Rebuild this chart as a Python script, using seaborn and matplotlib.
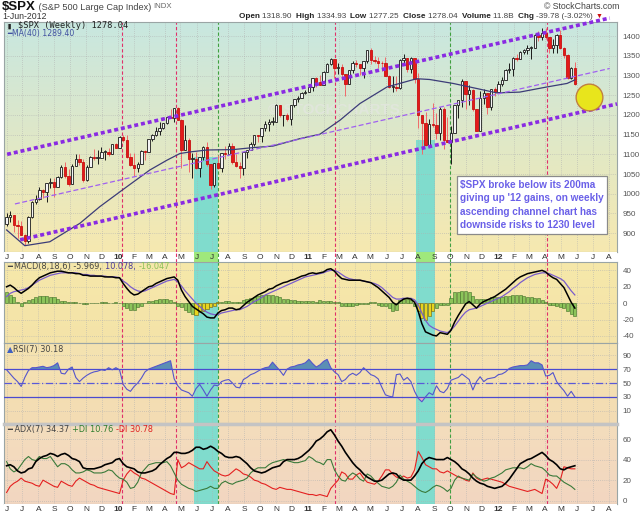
import numpy as np
import pandas as pd
import seaborn as sns
import matplotlib.pyplot as plt

plt.rcParams["font.family"] = ["Liberation Sans", "DejaVu Sans"]
plt.rcParams["axes.unicode_minus"] = False

W, H = 640, 515

# weekly bars, plotted at the Monday of each week
weeks = pd.date_range("2009-06-01", periods=157, freq="W-MON")

opens = [923, 940, 946, 921, 918, 896, 879, 940, 979, 987,
         1010, 1004, 1026, 1029, 1016, 1042, 1068, 1044, 1025, 1071,
         1087, 1080, 1036, 1069, 1093, 1091, 1091, 1106, 1106, 1102,
         1126, 1115, 1145, 1136, 1092, 1074, 1066, 1075, 1109, 1105,
         1139, 1150, 1160, 1167, 1179, 1194, 1192, 1217, 1187, 1111,
         1136, 1088, 1089, 1065, 1092, 1118, 1076, 1022, 1078, 1065,
         1103, 1102, 1122, 1080, 1071, 1065, 1105, 1110, 1125, 1149,
         1147, 1166, 1176, 1183, 1183, 1225, 1199, 1199, 1189, 1224,
         1240, 1244, 1256, 1258, 1272, 1293, 1283, 1276, 1310, 1329,
         1343, 1320, 1321, 1304, 1279, 1314, 1332, 1329, 1320, 1337,
         1364, 1340, 1338, 1333, 1331, 1300, 1271, 1272, 1268, 1340,
         1344, 1316, 1345, 1292, 1199, 1179, 1124, 1177, 1174, 1154,
         1216, 1136, 1131, 1155, 1225, 1238, 1285, 1253, 1264, 1216,
         1159, 1244, 1255, 1219, 1265, 1258, 1278, 1289, 1315, 1316,
         1345, 1343, 1361, 1366, 1370, 1371, 1404, 1397, 1408, 1398,
         1370, 1378, 1403, 1369, 1353, 1295, 1319]
highs = [951, 956, 946, 934, 931, 898, 943, 982, 996, 1018,
         1013, 1027, 1040, 1039, 1045, 1074, 1080, 1063, 1076, 1101,
         1101, 1087, 1072, 1097, 1113, 1112, 1119, 1111, 1117, 1127,
         1130, 1147, 1150, 1150, 1103, 1104, 1080, 1112, 1112, 1139,
         1151, 1170, 1181, 1180, 1195, 1214, 1217, 1220, 1190, 1174,
         1141, 1104, 1106, 1092, 1121, 1131, 1076, 1078, 1099, 1103,
         1120, 1128, 1130, 1100, 1081, 1105, 1111, 1131, 1149, 1150,
         1167, 1184, 1189, 1196, 1227, 1226, 1200, 1206, 1225, 1240,
         1247, 1259, 1263, 1278, 1294, 1297, 1302, 1311, 1331, 1344,
         1343, 1332, 1330, 1304, 1314, 1338, 1339, 1329, 1337, 1364,
         1371, 1349, 1346, 1336, 1346, 1301, 1298, 1298, 1341, 1356,
         1344, 1347, 1345, 1307, 1199, 1208, 1190, 1230, 1204, 1220,
         1220, 1195, 1171, 1226, 1239, 1292, 1285, 1277, 1266, 1216,
         1260, 1267, 1256, 1266, 1270, 1285, 1297, 1316, 1333, 1346,
         1354, 1363, 1368, 1378, 1375, 1406, 1414, 1420, 1422, 1399,
         1392, 1406, 1415, 1372, 1354, 1321, 1335]
lows = [919, 929, 904, 888, 896, 869, 875, 938, 975, 985,
        990, 978, 1014, 991, 1016, 1040, 1041, 1020, 1025, 1070,
        1074, 1029, 1033, 1069, 1086, 1076, 1091, 1086, 1097, 1102,
        1115, 1115, 1131, 1091, 1071, 1044, 1056, 1075, 1086, 1105,
        1134, 1146, 1150, 1165, 1176, 1192, 1183, 1186, 1065, 1111,
        1056, 1040, 1064, 1042, 1085, 1071, 1011, 1018, 1062, 1056,
        1089, 1102, 1076, 1069, 1039, 1047, 1091, 1110, 1122, 1131,
        1131, 1159, 1159, 1175, 1183, 1194, 1173, 1185, 1174, 1220,
        1232, 1244, 1254, 1257, 1262, 1271, 1275, 1276, 1309, 1326,
        1294, 1303, 1291, 1249, 1279, 1306, 1322, 1302, 1295, 1331,
        1330, 1331, 1318, 1311, 1300, 1268, 1258, 1262, 1267, 1333,
        1309, 1306, 1282, 1168, 1101, 1122, 1121, 1170, 1140, 1137,
        1114, 1131, 1075, 1155, 1191, 1221, 1215, 1226, 1209, 1158,
        1159, 1229, 1202, 1212, 1248, 1258, 1274, 1289, 1306, 1300,
        1337, 1341, 1354, 1355, 1341, 1369, 1387, 1391, 1392, 1357,
        1358, 1358, 1368, 1344, 1291, 1292, 1277]
closes = [940, 946, 921, 918, 896, 879, 940, 979, 987, 1010,
          1004, 1026, 1029, 1016, 1042, 1068, 1044, 1025, 1071, 1087,
          1080, 1036, 1069, 1093, 1091, 1091, 1106, 1106, 1102, 1126,
          1115, 1145, 1136, 1092, 1074, 1066, 1075, 1109, 1105, 1139,
          1150, 1160, 1167, 1179, 1194, 1192, 1217, 1187, 1111, 1136,
          1088, 1089, 1065, 1092, 1118, 1076, 1022, 1078, 1065, 1103,
          1102, 1122, 1080, 1071, 1065, 1105, 1110, 1125, 1149, 1147,
          1166, 1176, 1183, 1183, 1225, 1199, 1199, 1189, 1224, 1240,
          1244, 1256, 1258, 1272, 1293, 1283, 1276, 1310, 1329, 1343,
          1320, 1321, 1304, 1279, 1314, 1332, 1329, 1320, 1337, 1364,
          1340, 1338, 1333, 1331, 1300, 1271, 1272, 1268, 1340, 1344,
          1316, 1345, 1292, 1199, 1179, 1124, 1177, 1174, 1154, 1216,
          1136, 1131, 1155, 1225, 1238, 1285, 1253, 1264, 1216, 1159,
          1244, 1255, 1219, 1265, 1258, 1278, 1289, 1315, 1316, 1345,
          1343, 1361, 1366, 1370, 1371, 1404, 1397, 1408, 1398, 1370,
          1378, 1403, 1369, 1353, 1295, 1318, 1278]

ma_dates = ["2009-06-01", "2009-07-06", "2009-08-23", "2009-10-20", "2009-11-27",
            "2010-01-09", "2010-03-03", "2010-04-05", "2010-04-30", "2010-05-19",
            "2010-06-21", "2010-08-10", "2010-09-17", "2010-10-26", "2010-12-17",
            "2011-01-24", "2011-03-04", "2011-04-11", "2011-06-02", "2011-07-29",
            "2011-08-23", "2011-10-07", "2011-11-22", "2011-12-30", "2012-02-12",
            "2012-04-04", "2012-05-13", "2012-05-28"]
ma40 = [908, 868, 878, 925, 967, 1009, 1060, 1085, 1102, 1106,
        1111, 1112, 1117, 1121, 1140, 1151, 1187, 1229, 1271, 1292,
        1290, 1280, 1267, 1256, 1258, 1271, 1280, 1289]

macd_line = [20, 22, 19, 15, 12, 15, 18, 22, 27, 31, 33, 35, 37, 38, 39, 39, 38, 37, 37, 36,
             36, 34, 34, 33, 33, 33, 33, 32, 32, 32, 31, 31, 24, 18, 13, 10, 11, 14, 17, 20,
             21, 24, 26, 28, 30, 31, 32, 28, 16, 8, 2, -4, -7, -10, -13, -17, -18, -18, -12, -9,
             -8, -6, -6, -8, -7, -3, 1, 4, 7, 10, 12, 14, 17, 18, 21, 23, 25, 26, 28, 29,
             31, 33, 34, 36, 37, 36, 37, 38, 41, 42, 39, 34, 30, 29, 28, 28, 28, 28, 27, 26,
             25, 22, 19, 15, 11, 7, 1, -2, 2, 5, 6, 5, 1, -10, -25, -35, -37, -39, -40, -36,
             -37, -38, -33, -23, -15, -8, -1, 2, -2, -6, -1, 2, 4, 6, 8, 11, 14, 17, 21, 25,
             29, 32, 34, 36, 37, 38, 39, 40, 38, 34, 31, 29, 24, 19, 10, 1, -6]
macd_signal = [8, 12, 14, 15, 16, 17, 19, 22, 25, 28, 30, 32, 34, 35, 36, 37, 37, 37, 37, 37,
               36, 35, 35, 34, 34, 33, 33, 33, 32, 32, 32, 31, 27, 24, 20, 17, 15, 14, 15, 17,
               19, 21, 23, 25, 27, 28, 29, 26, 21, 15, 10, 5, 0, -4, -8, -11, -13, -14, -14, -12,
               -11, -10, -9, -8, -8, -6, -4, -1, 2, 4, 7, 10, 12, 14, 16, 18, 20, 22, 24, 26,
               28, 30, 32, 33, 34, 35, 36, 37, 39, 40, 40, 38, 35, 32, 30, 29, 28, 28, 27, 26,
               25, 24, 22, 19, 15, 11, 7, 5, 5, 6, 6, 6, 4, -2, -12, -21, -27, -30, -32, -34,
               -35, -36, -33, -28, -22, -16, -11, -8, -7, -6, -4, -2, 0, 2, 4, 6, 8, 11, 14, 18,
               21, 25, 28, 31, 33, 35, 36, 37, 37, 36, 34, 32, 30, 27, 21, 15, 10]
macd_hist = [14, 10, 7, 2, -3, 1, 4, 5, 8, 9, 9, 9, 8, 7, 5, 3, 3, 2, 1, 1,
             0, -1, -1, 0, 0, 0, 1, 1, 0, 0, 1, 0, -4, -6, -8, -8, -5, -3, 0, 3,
             3, 4, 5, 5, 5, 4, 2, -3, -5, -8, -11, -13, -14, -11, -9, -7, -5, -3, 2, 2,
             3, 3, 2, 1, 2, 4, 5, 6, 7, 9, 10, 10, 10, 10, 9, 7, 5, 5, 4, 4,
             3, 3, 3, 3, 3, 2, 4, 3, 3, 3, 1, 1, -3, -3, -3, -3, -2, -1, -1, -1,
             1, 1, -2, -3, -4, -6, -10, -8, 4, 5, 5, 4, -3, -10, -18, -20, -16, -10, -6, -2,
             -2, -2, 6, 13, 14, 15, 15, 14, 9, 5, 5, 5, 5, 7, 8, 8, 8, 9, 9, 10,
             10, 10, 9, 8, 7, 6, 6, 4, 2, -2, -2, -3, -5, -6, -10, -13, -16]
rsi7 = [69, 63, 57, 52, 45, 58, 68, 72, 72, 73, 74, 72, 73, 75, 79, 64, 63, 70, 73, 58,
        52, 57, 61, 64, 66, 67, 69, 68, 72, 69, 72, 69, 48, 41, 38, 45, 50, 57, 66, 70,
        72, 74, 76, 78, 80, 82, 56, 46, 40, 38, 36, 31, 42, 48, 40, 31, 40, 47, 46, 52,
        54, 55, 50, 44, 43, 55, 58, 62, 64, 67, 70, 72, 73, 80, 74, 68, 61, 70, 73, 74,
        76, 77, 79, 84, 78, 73, 76, 81, 84, 72, 66, 62, 52, 55, 61, 64, 61, 65, 72, 67,
        62, 60, 56, 44, 33, 31, 30, 62, 63, 54, 58, 52, 38, 28, 23, 30, 36, 33, 46, 38,
        36, 42, 54, 56, 58, 63, 59, 55, 40, 52, 59, 52, 56, 57, 58, 62, 63, 66, 71, 73,
        74, 75, 75, 76, 82, 79, 79, 76, 60, 61, 65, 52, 45, 39, 31, 38, 30]
adx7 = [34, 35, 33, 29, 27, 28, 31, 32, 38, 41, 43, 44, 46, 45, 43, 45, 46, 44, 41, 40,
        38, 32, 31, 31, 31, 32, 33, 35, 36, 37, 40, 41, 36, 33, 32, 31, 28, 27, 27, 28,
        29, 31, 35, 38, 41, 43, 47, 47, 46, 46, 47, 49, 52, 52, 50, 51, 53, 51, 48, 46,
        43, 42, 42, 43, 42, 39, 36, 32, 29, 28, 27, 28, 30, 32, 33, 34, 38, 40, 40, 40,
        41, 43, 46, 49, 53, 58, 60, 63, 67, 69, 64, 58, 53, 47, 42, 37, 33, 30, 26, 23,
        21, 19, 19, 20, 23, 26, 27, 26, 22, 20, 20, 20, 24, 29, 36, 40, 42, 41, 40, 40,
        40, 42, 40, 38, 35, 31, 29, 26, 22, 19, 17, 16, 14, 13, 12, 13, 14, 17, 21, 26,
        31, 36, 38, 40, 41, 43, 45, 47, 44, 40, 38, 35, 31, 30, 32, 33, 34]
plus_di = [38, 31, 28, 30, 35, 40, 43, 40, 39, 43, 41, 41, 43, 38, 33, 36, 36, 34, 30, 27,
           27, 28, 30, 29, 27, 27, 27, 28, 30, 29, 25, 22, 21, 18, 12, 13, 18, 27, 31, 35,
           36, 37, 37, 37, 38, 34, 27, 20, 16, 14, 12, 11, 9, 10, 11, 12, 14, 12, 12, 17,
           19, 17, 16, 18, 19, 20, 22, 27, 30, 32, 32, 32, 35, 37, 38, 39, 40, 39, 38, 37,
           37, 38, 39, 43, 41, 38, 37, 35, 40, 40, 30, 24, 20, 19, 24, 27, 25, 21, 19, 26,
           24, 20, 17, 14, 13, 12, 14, 18, 25, 21, 19, 17, 14, 11, 9, 8, 10, 13, 15, 14,
           12, 9, 12, 20, 24, 22, 21, 20, 26, 23, 21, 19, 20, 22, 23, 25, 27, 30, 31, 32,
           32, 32, 31, 33, 36, 34, 33, 32, 29, 25, 24, 24, 21, 18, 16, 14, 11]
minus_di = [8, 14, 17, 19, 22, 19, 18, 17, 15, 14, 20, 18, 16, 14, 13, 19, 17, 15, 14, 19,
            22, 20, 18, 16, 15, 13, 12, 11, 10, 9, 8, 7, 20, 26, 30, 27, 25, 22, 21, 19,
            17, 15, 13, 11, 9, 7, 6, 40, 32, 34, 37, 35, 33, 31, 31, 38, 33, 29, 27, 25,
            24, 25, 28, 31, 29, 26, 25, 23, 20, 19, 17, 16, 14, 12, 11, 13, 12, 11, 11, 10,
            9, 8, 7, 6, 6, 5, 6, 5, 4, 12, 16, 20, 28, 26, 21, 21, 25, 27, 22, 18,
            17, 16, 19, 24, 30, 30, 26, 23, 22, 24, 22, 23, 30, 48, 42, 35, 33, 31, 31, 28,
            27, 29, 27, 25, 23, 22, 20, 19, 27, 22, 20, 21, 22, 21, 20, 19, 18, 16, 14, 13,
            12, 11, 10, 9, 10, 11, 9, 7, 21, 19, 16, 12, 20, 33, 32, 31, 31]

month_labels = ["J", "J", "A", "S", "O", "N", "D",
                "10", "F", "M", "A", "M", "J", "J", "A", "S", "O", "N", "D",
                "11", "F", "M", "A", "M", "J", "J", "A", "S", "O", "N", "D",
                "12", "F", "M", "A", "M", "J", "J", "A"]
month_starts = pd.date_range("2009-06-01", periods=len(month_labels), freq="MS")

# hand drawn annotations
upper_dates, upper_vals = ["2009-06-02", "2012-08-03"], [1100, 1446]
lower_dates, lower_vals = ["2009-06-27", "2012-08-17"], [883, 1228]
mid_dates, mid_vals = ["2009-06-17", "2012-08-03"], [974, 1318]
red_marks = ["2010-01-08", "2010-04-22", "2011-02-23", "2012-04-05"]
green_marks = ["2010-07-13", "2011-10-01"]
bands = [("2010-05-27", "2010-07-13"), ("2011-07-27", "2011-09-03")]
band_tops = [1093, 1136]
target_date, target_level = "2012-06-25", 1245
note = ("\\$SPX broke below its 200ma\ngiving up '12 gains, on weekly\n"
        "ascending channel chart has\ndownside risks to 1230 level")

xlim = (pd.Timestamp("2009-05-27"), pd.Timestamp("2012-08-17"))
teal = "#80dccd"
purple = "#8a2be2"


def box(x0, y0, x1, y1):
    return [x0 / W, 1 - y1 / H, (x1 - x0) / W, (y1 - y0) / H]


def shade(ax, top, bottom):
    t = np.linspace(0, 1, 64)[:, None, None]
    img = np.array(top)[None, None, :] / 255 * (1 - t) + np.array(bottom)[None, None, :] / 255 * t
    ax.imshow(img, extent=(0, 1, 0, 1), transform=ax.transAxes, aspect="auto",
              zorder=0, origin="upper", interpolation="bilinear")


def panel_style(ax, ylim, yticks):
    ax.set_xticks(month_starts)
    ax.set_yticks(yticks)
    ax.yaxis.tick_right()
    ax.tick_params(axis="x", length=0, labelbottom=False)
    ax.tick_params(axis="y", length=0, labelsize=5.8, labelcolor="#555555", pad=4)
    ax.grid(True, color="#b0b0b0", ls=(0, (1, 2)), lw=0.5, zorder=0.5)
    for s in ax.spines.values():
        s.set_color("#9aa5a5")
        s.set_linewidth(0.8)
    ax.set_xlabel("")
    ax.set_ylabel("")
    ax.set_ylim(*ylim)
    ax.set_xlim(*xlim)


fig = plt.figure(figsize=(6.4, 5.15), dpi=100)

ax_p = fig.add_axes(box(4, 22, 617, 252))
ax_d1 = fig.add_axes(box(4, 252, 617, 262))
ax_m = fig.add_axes(box(4, 262, 617, 343))
ax_r = fig.add_axes(box(4, 343, 617, 423))
ax_a = fig.add_axes(box(4, 424, 617, 504))
ax_d2 = fig.add_axes(box(4, 504, 617, 514))

# ---- price panel
o, h, l, c = (np.array(v, float) for v in (opens, highs, lows, closes))
up = c >= o
ax_p.vlines(weeks, l, h, colors=list(np.where(up, "#1a1a1a", "#f06a6a")), lw=0.7, zorder=3)
ax_p.bar(weeks, np.maximum(np.abs(c - o), 1.5), bottom=np.minimum(o, c), width=4.6,
         color=list(np.where(up, "#f4f4f4", "#e31a1a")),
         edgecolor=list(np.where(up, "#1a1a1a", "#c81010")), linewidth=0.6, zorder=4)
sns.lineplot(x=pd.to_datetime(ma_dates), y=ma40, ax=ax_p, color="#3c3c78", lw=0.9, zorder=5)

for (b0, b1), top in zip(bands, band_tops):
    ax_p.fill_between(pd.to_datetime([b0, b1]), 852, top, color=teal, lw=0, zorder=1)

ax_p.plot(pd.to_datetime(upper_dates), upper_vals, color=purple, lw=2.6,
          ls=(0, (1.1, 0.8)), zorder=6, clip_on=False)
ax_p.plot(pd.to_datetime(lower_dates), lower_vals, color=purple, lw=2.6,
          ls=(0, (1.1, 0.8)), zorder=6, clip_on=False)
ax_p.plot(pd.to_datetime(mid_dates), mid_vals, color="#a060f0", lw=0.9,
          ls=(0, (4, 2)), zorder=6)
ax_p.scatter([pd.Timestamp(target_date)], [target_level], s=370, color="#e8e51c",
             edgecolors="#c08040", linewidths=1, zorder=7, clip_on=False)
ax_p.text(0.538, 0.617, "© STOCKCHARTS", transform=ax_p.transAxes, ha="center", va="center",
          fontsize=11, fontweight="bold", color="#e2e6de", alpha=0.85, zorder=2)
panel_style(ax_p, (852, 1436), range(900, 1401, 50))
shade(ax_p, (200, 231, 224), (246, 233, 176))
ax_p.set_xlim(*xlim)
ax_p.set_ylim(852, 1436)

# ---- MACD panel
in_band = np.zeros(len(weeks), bool)
for b0, b1 in bands:
    in_band |= (weeks >= pd.Timestamp(b0)) & (weeks <= pd.Timestamp(b1))
ax_m.bar(weeks, macd_hist, width=6, color=list(np.where(in_band, "#e8d41e", "#8cc45a")),
         edgecolor=list(np.where(in_band, "#6b5e10", "#3f6e25")), linewidth=0.4, zorder=3)
sns.lineplot(x=weeks, y=macd_signal, ax=ax_m, color="#7a5ccc", lw=0.9, zorder=4)
sns.lineplot(x=weeks, y=macd_line, ax=ax_m, color="black", lw=1.1, zorder=5)
panel_style(ax_m, (-48.6, 50.2), [-40, -20, 0, 20, 40])

# ---- RSI panel
rsi = np.array(rsi7, float)
ax_r.fill_between(weeks, 70, rsi, where=rsi >= 70, interpolate=True, color="#5b8fb4", lw=0, zorder=2)
ax_r.fill_between(weeks, 30, rsi, where=rsi <= 30, interpolate=True, color="#f0a8c4", lw=0, zorder=2)
for lvl in (70, 30):
    ax_r.axhline(lvl, color="#4b4bd0", lw=0.9, zorder=3)
ax_r.axhline(50, color="#5a5ad8", lw=0.9, ls=(0, (6, 2, 1, 2)), zorder=3)
sns.lineplot(x=weeks, y=rsi7, ax=ax_r, color="#5555cc", lw=0.8, zorder=4)
panel_style(ax_r, (-7.5, 107.5), [10, 30, 50, 70, 90])

# ---- ADX panel
sns.lineplot(x=weeks, y=minus_di, ax=ax_a, color="#e42020", lw=0.8, zorder=3)
sns.lineplot(x=weeks, y=plus_di, ax=ax_a, color="#3a7a3a", lw=0.8, zorder=3)
sns.lineplot(x=weeks, y=adx7, ax=ax_a, color="black", lw=1.2, zorder=4)
panel_style(ax_a, (-3.2, 74.6), [0, 20, 40, 60])
ax_a.spines["top"].set_linewidth(2.5)
ax_a.spines["top"].set_color("#c4c4c4")

for ax, top, bottom in ((ax_m, (246, 232, 170), (244, 227, 168)),
                        (ax_r, (245, 227, 176), (243, 220, 180)),
                        (ax_a, (244, 221, 188), (242, 214, 193))):
    for b0, b1 in bands:
        ax.axvspan(pd.Timestamp(b0), pd.Timestamp(b1), color=teal, lw=0, zorder=1)
    shade(ax, top, bottom)
    ax.set_xlim(*xlim)

# ---- date strips
for ax in (ax_d1, ax_d2):
    ax.set_facecolor("white")
    ax.set_xlim(*xlim)
    ax.set_ylim(0, 1)
    ax.set_xticks([])
    ax.set_yticks([])
    for s in ax.spines.values():
        s.set_visible(False)
    for d, lbl in zip(month_starts, month_labels):
        ax.text(d, 0.45, lbl, transform=ax.get_xaxis_transform(), ha="center", va="center",
                fontsize=6, color="#333333", fontweight="bold" if lbl.isdigit() else "normal")
for b0, b1 in bands:
    ax_d1.axvspan(pd.Timestamp(b0), pd.Timestamp(b1), color="#9fe87c", lw=0, zorder=0)

for ax in (ax_p, ax_d1, ax_m, ax_r, ax_a):
    for d in red_marks:
        ax.axvline(pd.Timestamp(d), color="#e0306a", lw=0.8, ls=(0, (3, 2)), zorder=2.5)
    for d in green_marks:
        ax.axvline(pd.Timestamp(d), color="#40a040", lw=0.8, ls=(0, (3, 2)), zorder=2.5)

# ---- texts
ov = fig.add_axes([0, 0, 1, 1], zorder=10)
ov.set_axis_off()
ov.set_xlim(0, W)
ov.set_ylim(H, 0)


def chain(x, y, parts, size, family=None):
    prev = None
    for part in parts:
        s, col, wt = part[:3]
        kw = dict(color=col, fontsize=part[3] if len(part) > 3 else size,
                  fontweight=wt, va="center", ha="left")
        if family:
            kw["family"] = family
        if prev is None:
            prev = ov.text(x, y, s, **kw)
        else:
            prev = ov.annotate(s, xy=(1, 0.5), xycoords=prev, **kw)
    return prev


chain(2, 7, [("\\$SPX", "#111111", "bold", 9.5),
             (" (S&P 500 Large Cap Index) ", "#444444", "normal", 6.6),
             ("INDX", "#666666", "normal", 5.6)], 9)
ov.text(2, 16.5, "1-Jun-2012", fontsize=6.3, color="#333333", va="center")
ov.text(619, 6.5, "© StockCharts.com", fontsize=6.3, color="#444444", va="center", ha="right")
chain(239, 16.5, [("Open ", "#222222", "bold"), ("1318.90  ", "#444444", "normal"),
                  ("High ", "#222222", "bold"), ("1334.93  ", "#444444", "normal"),
                  ("Low ", "#222222", "bold"), ("1277.25  ", "#444444", "normal"),
                  ("Close ", "#222222", "bold"), ("1278.04  ", "#444444", "normal"),
                  ("Volume ", "#222222", "bold"), ("11.8B  ", "#444444", "normal"),
                  ("Chg ", "#222222", "bold"), ("-39.78 (-3.02%) ", "#444444", "normal"),
                  ("▼", "#cc1010", "normal", 5)], 5.9)

chain(7, 26, [("▮ ", "#222222", "normal"), ("\\$SPX (Weekly) 1278.04", "#222222", "normal")],
      6.2, family="DejaVu Sans Mono")
chain(7, 33.5, [("━", "#4050a0", "normal"), ("MA(40) 1289.40", "#4050a0", "normal")], 5.6,
      family="DejaVu Sans")
chain(7, 266.8, [("━ ", "#444444", "normal"), ("MACD(8,18,6) -5.969, ", "#444444", "normal"),
                 ("10.078, ", "#4a3a9a", "normal"), ("-16.047", "#8cc05a", "normal")], 5.9,
      family="DejaVu Sans")
chain(7, 349.5, [("▲", "#4060c0", "normal"), ("RSI(7) 30.18", "#444444", "normal")], 5.9,
      family="DejaVu Sans")
chain(7, 429.5, [("━ ADX(7) 34.37 ", "#444444", "normal"), ("+DI 10.76 ", "#2e7d2e", "normal"),
                 ("-DI 30.78", "#e02020", "normal")], 5.9, family="DejaVu Sans")

ov.text(460, 205, note, fontsize=7.2, fontweight="bold", color="#6a60e8", ha="left",
        va="center", linespacing=1.45,
        bbox=dict(boxstyle="square,pad=0.35", fc="white", ec="#8a8a8a", lw=0.9))

fig.savefig("out.png", dpi=100)
